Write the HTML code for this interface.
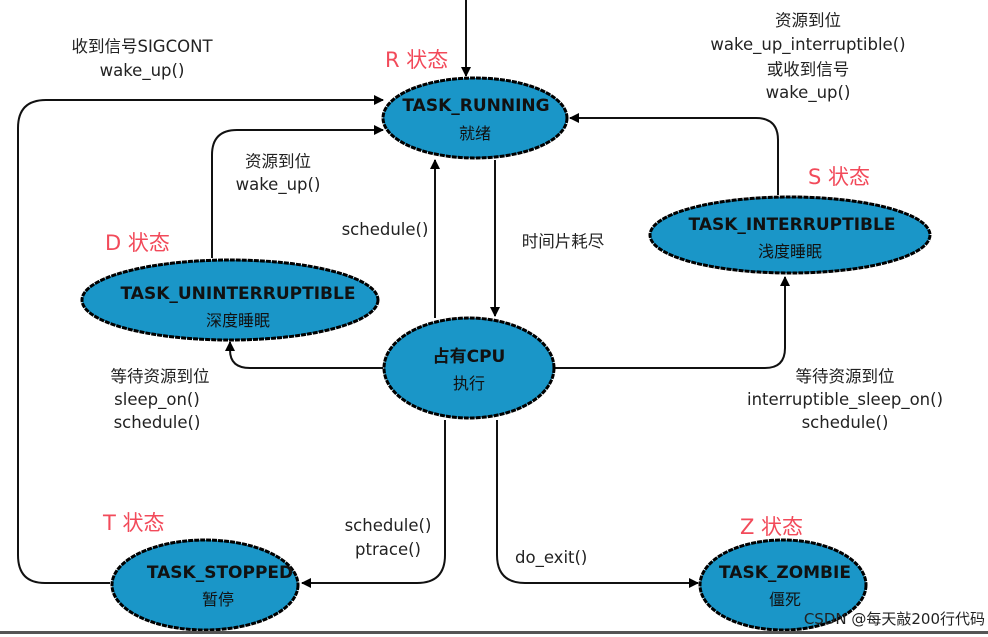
<!DOCTYPE html>
<html><head><meta charset="utf-8"><style>
body{margin:0;background:#fff}
svg{display:block}
text{font-family:"DejaVu Sans","Noto Sans CJK SC",sans-serif;fill:#222}
.l{font-size:16.5px}
.r{font-size:21px;fill:#f24a5a}
.b{font-size:17px;font-weight:bold;fill:#111}
.c{font-size:16px;fill:#111}
</style></head><body>
<svg width="988" height="637" viewBox="0 0 988 637">
<defs><marker id="a" markerWidth="10" markerHeight="10" refX="9" refY="5" orient="auto" markerUnits="userSpaceOnUse"><path d="M0,0L10,5L0,10z" fill="#000"/></marker></defs>
<g fill="none" stroke="#111" stroke-width="2">
<path d="M466,0V76" marker-end="url(#a)"/>
<path d="M110,583H45Q18,583 18,555V128Q18,100 46,100H383" marker-end="url(#a)"/>
<path d="M212,258V155Q212,130 237,130H383" marker-end="url(#a)"/>
<path d="M435,318V160" marker-end="url(#a)"/>
<path d="M495,160V316" marker-end="url(#a)"/>
<path d="M778,195V140Q778,118 756,118H570" marker-end="url(#a)"/>
<path d="M383,368H250Q230,368 230,350V342" marker-end="url(#a)"/>
<path d="M555,368H765Q785,368 785,348V277" marker-end="url(#a)"/>
<path d="M445,420V555Q445,583 417,583H302" marker-end="url(#a)"/>
<path d="M497,420V555Q497,583 525,583H698" marker-end="url(#a)"/>
</g>
<g fill="#1a96c8" stroke="#000" stroke-width="3" stroke-dasharray="5 1">
<ellipse cx="475" cy="118" rx="92" ry="40"/>
<ellipse cx="790" cy="235" rx="140" ry="38"/>
<ellipse cx="230" cy="300" rx="148" ry="40"/>
<ellipse cx="469" cy="368" rx="85" ry="50"/>
<ellipse cx="205" cy="585" rx="93" ry="45"/>
<ellipse cx="783" cy="585" rx="83" ry="45"/>
</g>
<text class="b" x="476" y="111" text-anchor="middle">TASK_RUNNING</text>
<text class="c" x="475" y="139" text-anchor="middle">就绪</text>
<text class="b" x="792" y="230" text-anchor="middle">TASK_INTERRUPTIBLE</text>
<text class="c" x="790" y="257" text-anchor="middle">浅度睡眠</text>
<text class="b" x="238" y="299" text-anchor="middle">TASK_UNINTERRUPTIBLE</text>
<text class="c" x="238" y="326" text-anchor="middle">深度睡眠</text>
<text class="b" x="469" y="362" text-anchor="middle">占有CPU</text>
<text class="c" x="469" y="389" text-anchor="middle">执行</text>
<text class="b" x="220" y="578" text-anchor="middle">TASK_STOPPED</text>
<text class="c" x="218" y="605" text-anchor="middle">暂停</text>
<text class="b" x="785" y="578" text-anchor="middle">TASK_ZOMBIE</text>
<text class="c" x="785" y="605" text-anchor="middle">僵死</text>
<text class="r" x="385" y="67">R 状态</text>
<text class="r" x="808" y="184">S 状态</text>
<text class="r" x="105" y="250">D 状态</text>
<text class="r" x="103" y="530">T 状态</text>
<text class="r" x="740" y="534">Z 状态</text>
<g class="l">
<text x="142" y="52" text-anchor="middle">收到信号SIGCONT</text>
<text x="142" y="76" text-anchor="middle">wake_up()</text>
<text x="808" y="26" text-anchor="middle">资源到位</text>
<text x="808" y="50" text-anchor="middle">wake_up_interruptible()</text>
<text x="808" y="75" text-anchor="middle">或收到信号</text>
<text x="808" y="98" text-anchor="middle">wake_up()</text>
<text x="278" y="167" text-anchor="middle">资源到位</text>
<text x="278" y="190" text-anchor="middle">wake_up()</text>
<text x="385" y="235" text-anchor="middle">schedule()</text>
<text x="563" y="247" text-anchor="middle">时间片耗尽</text>
<text x="160" y="382" text-anchor="middle">等待资源到位</text>
<text x="157" y="405" text-anchor="middle">sleep_on()</text>
<text x="157" y="428" text-anchor="middle">schedule()</text>
<text x="845" y="382" text-anchor="middle">等待资源到位</text>
<text x="845" y="405" text-anchor="middle">interruptible_sleep_on()</text>
<text x="845" y="428" text-anchor="middle">schedule()</text>
<text x="388" y="531" text-anchor="middle">schedule()</text>
<text x="388" y="555" text-anchor="middle">ptrace()</text>
<text x="515" y="563">do_exit()</text>
<text x="985" y="624" text-anchor="end" fill="#666" style="font-size:15px">CSDN @每天敲200行代码</text>
</g>
<rect x="0" y="631" width="988" height="3" fill="#555"/>
</svg>
</body></html>
